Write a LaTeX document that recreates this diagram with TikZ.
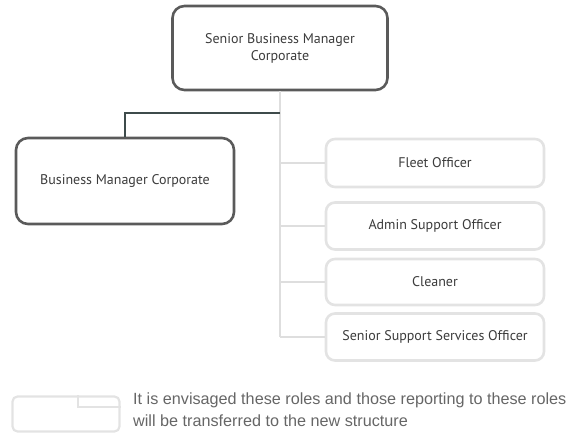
\documentclass[tikz,border=0pt]{standalone}
\usepackage{fontspec}
\setmainfont{PT Sans}
\newfontfamily\legendfont{Liberation Sans}
\definecolor{boxdark}{HTML}{5A5A5A}
\definecolor{boxlight}{HTML}{E3E3E3}
\definecolor{linklight}{HTML}{DEDEDE}
\definecolor{linkdark}{HTML}{3E4B4B}
\definecolor{txt}{HTML}{3C3C3C}
\definecolor{legendtxt}{HTML}{666666}
\begin{document}
\begin{tikzpicture}[x=1pt,y=-1pt,
  mgrbox/.style={draw=boxdark,line width=2.6pt,rounded corners=12pt,fill=white,
    text=txt,font=\fontsize{14}{17}\selectfont,align=center,inner sep=0pt},
  rolebox/.style={draw=boxlight,line width=2.6pt,rounded corners=9pt,fill=white,
    text=txt,font=\fontsize{14}{17}\selectfont,align=center,inner sep=0pt,
    minimum width=218pt,minimum height=47pt},
  lightlink/.style={draw=linklight,line width=1.4pt},
  darklink/.style={draw=linkdark,line width=1.8pt}]
\useasboundingbox (0,0) rectangle (570,441);

% managers
\node[mgrbox,minimum width=215pt,minimum height=84pt] (sbm) at (280,48)
  {Senior Business Manager\\Corporate};
\node[mgrbox,minimum width=218pt,minimum height=86pt] (bm) at (125,181)
  {Business Manager Corporate};

% roles moving to the new structure
\node[rolebox,minimum height=48pt] (fleet) at (435,163) {Fleet Officer};
\node[rolebox,minimum height=47pt] (admin) at (435,226) {Admin Support Officer};
\node[rolebox,minimum height=46pt] (clean) at (435,282) {Cleaner};
\node[rolebox,minimum height=47pt] (sss) at (435,337) {Senior Support Services Officer};

% reporting lines
\coordinate (spine) at (280,337);
\coordinate (elbow) at (280,113);
\draw[lightlink] (sbm.south) -- (spine);
\draw[lightlink] (fleet.west) -- (fleet.west -| spine);
\draw[lightlink] (admin.west) -- (admin.west -| spine);
\draw[lightlink] (clean.west) -- (clean.west -| spine);
\draw[lightlink] (sss.west) -- (spine);
\draw[darklink] (elbow) -- (elbow -| bm.north) -- (bm.north);

% legend
\node[draw=boxlight,line width=2.2pt,rounded corners=5pt,minimum width=107pt,
  minimum height=35pt,inner sep=0pt] (key) at (66,414) {};
\coordinate (tab) at (78,0);
\draw[draw=boxlight,line width=1.8pt] (tab |- key.north) -- (tab |- 0,407) -- (key.east |- 0,407);
\node[anchor=base west,text=legendtxt,font=\legendfont\fontsize{16.2}{22}\selectfont,
  align=left,inner sep=0pt] (legend) at (133,426)
  {It is envisaged these roles and those reporting to these roles\\
   will be transferred to the new structure};
\end{tikzpicture}
\end{document}
